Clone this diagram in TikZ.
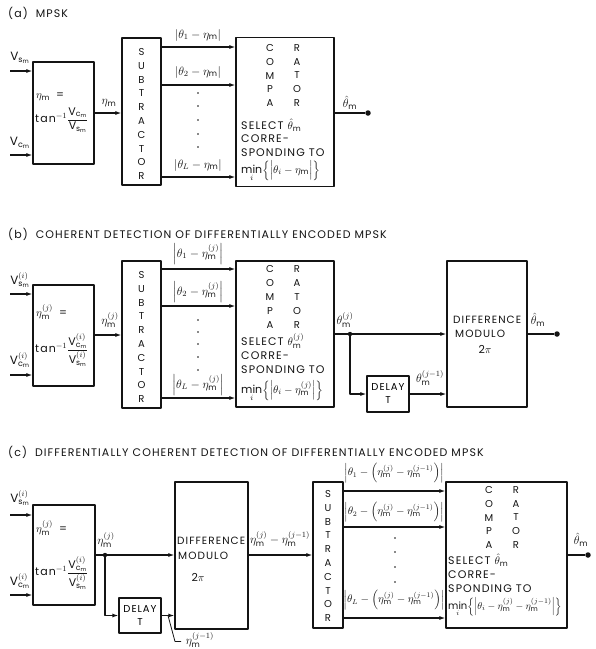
\documentclass[tikz,border=0pt]{standalone}
\usepackage{amsmath}
\usepackage{fontspec}
\setmainfont{Poppins}[LetterSpace=10]
\setsansfont{Poppins}[LetterSpace=10]
\usetikzlibrary{arrows.meta,positioning,calc}
\definecolor{dgedge}{RGB}{20,20,20}
\definecolor{dgpaper}{RGB}{255,255,255}
\newcommand{\dgm}{\mathsf{m}}
\newcommand{\dgV}[1]{\mathsf{V}_{\mathsf{#1}_{\dgm}}}
\tikzset{
  blk/.style={draw=dgedge, line width=1.2pt, inner sep=0pt},
  dly/.style={blk, align=center, font=\fontsize{10}{13}\selectfont},
  arr/.style={-{Latex[length=6pt,width=4pt]}, draw=dgedge, line width=1.2pt},
  wire/.style={draw=dgedge, line width=1.2pt},
  lead/.style={draw=dgedge, line width=0.8pt},
  term/.style={circle, fill=dgedge, inner sep=0pt, minimum size=5.5pt},
  jn/.style={circle, fill=dgedge, inner sep=0pt, minimum size=4.4pt},
  lbl/.style={inner sep=0pt, text=dgedge},
  mlbl/.style={lbl, font=\fontsize{12}{14}\selectfont},
  slbl/.style={lbl, font=\fontsize{10.5}{12}\selectfont},
  txt/.style={lbl, anchor=west},
  dtxt/.style={txt, font=\fontsize{10.5}{12}\selectfont},
  stk/.style={lbl, align=center, font=\fontsize{10}{13.8}\selectfont},
  ttl/.style={lbl, anchor=west, font=\fontsize{11}{13}\selectfont},
  every picture/.append style={font=\fontsize{11}{13}\selectfont, line join=round}
}

\begin{document}
\begin{tikzpicture}[x=1pt, y=-1pt]
  \useasboundingbox[fill=dgpaper] (0,0) rectangle (596,649);
  % (a)
  \node[ttl] (ttla) at (8,13) {(a)\hspace{8pt}MPSK};
  \node[blk, minimum width=61pt, minimum height=102pt] (fna) at (63.5,113) {};
  \node[blk, minimum width=39pt, minimum height=147pt] (sba) at (141.5,111.5) {};
  \node[blk, minimum width=98pt, minimum height=149pt] (cpa) at (285,112) {};
  \coordinate (ina1) at (10,71);
  \coordinate (ina2) at (10,155);
  \draw[arr] (ina1) -- (fna.west |- ina1);
  \draw[arr] (ina2) -- (fna.west |- ina2);
  \node[mlbl] at (20,58) {$\dgV{s}$};
  \node[mlbl] at (20,143) {$\dgV{c}$};
  \node[txt] at (36,97) {$\eta_\dgm$\hspace{6pt}=};
  \node[txt] at (35,120) {tan$^{-1}\dfrac{\dgV{c}}{\dgV{s}}$};
  \draw[arr] (fna) -- (sba.west |- fna);
  \node[mlbl] at (109,103) {$\eta_\dgm$};
  \node[stk] at (141.5,114) {S\\U\\B\\T\\R\\A\\C\\T\\O\\R};
  \draw[arr] (sba.east |- 0,47) -- (cpa.west |- 0,47);
  \draw[arr] (sba.east |- 0,85) -- (cpa.west |- 0,85);
  \draw[arr] (sba.east |- 0,177) -- (cpa.west |- 0,177);
  \node[mlbl] at (198,35) {$\left|\theta_1 - \eta_\dgm\right|$};
  \node[mlbl] at (198,72) {$\left|\theta_2 - \eta_\dgm\right|$};
  \node[mlbl] at (198,165) {$\left|\theta_L - \eta_\dgm\right|$};
  \foreach \k in {93,106,120,134,147}
    \fill[dgedge] (198,\k) circle (0.9);
  \node[stk] at (270,75.5) {C\\O\\M\\P\\A};
  \node[stk] at (297,75.5) {R\\A\\T\\O\\R};
  \node[txt] at (241,125) {SELECT $\hat{\theta}_\dgm$};
  \node[txt] at (241,139) {CORRE-};
  \node[txt] at (241,153) {SPONDING TO};
  \node[txt] at (241,171) {$\underset{i}{\mathsf{min}}\Bigl\{\Bigl|\theta_i - \eta_\dgm\Bigr|\Bigr\}$};
  \node[term] (outa) at (368,113) {};
  \draw[wire] (cpa.east |- outa) -- (outa);
  \node[mlbl] at (350,103) {$\hat{\theta}_\dgm$};
  % (b)
  \node[ttl] (ttlb) at (8,234) {(b)\hspace{8pt}COHERENT DETECTION OF DIFFERENTIALLY ENCODED MPSK};
  \node[blk, minimum width=61pt, minimum height=101pt] (fnb) at (63.5,335.5) {};
  \node[blk, minimum width=39pt, minimum height=147pt] (sbb) at (141.5,334.5) {};
  \node[blk, minimum width=98pt, minimum height=146pt] (cpb) at (285,334) {};
  \node[blk, minimum width=80pt, minimum height=146pt] (dfb) at (487,334) {};
  \node[dly, minimum width=42pt, minimum height=36pt] (db) at (388,394) {DELAY\\T};
  \coordinate (inb1) at (10,294);
  \coordinate (inb2) at (10,375);
  \draw[arr] (inb1) -- (fnb.west |- inb1);
  \draw[arr] (inb2) -- (fnb.west |- inb2);
  \node[mlbl] at (20,280) {$\dgV{s}^{(i)}$};
  \node[mlbl] at (20,360) {$\dgV{c}^{(i)}$};
  \node[txt] at (36,312) {$\eta_\dgm^{(j)}$\hspace{6pt}=};
  \node[txt] at (35,350) {tan$^{-1}\dfrac{\dgV{c}^{(i)}}{\dgV{s}^{(i)}}$};
  \draw[arr] (fnb.east |- 0,335) -- (sbb.west |- 0,335);
  \node[mlbl] at (110,320) {$\eta_\dgm^{(j)}$};
  \node[stk] at (141.5,337) {S\\U\\B\\T\\R\\A\\C\\T\\O\\R};
  \draw[arr] (sbb.east |- 0,269) -- (cpb.west |- 0,269);
  \draw[arr] (sbb.east |- 0,306) -- (cpb.west |- 0,306);
  \draw[arr] (sbb.east |- 0,398) -- (cpb.west |- 0,398);
  \node[mlbl] at (198,254) {$\left|\theta_1 - \eta_\dgm^{(j)}\right|$};
  \node[mlbl] at (198,292) {$\left|\theta_2 - \eta_\dgm^{(j)}\right|$};
  \node[mlbl] at (198,385) {$\left|\theta_L - \eta_\dgm^{(j)}\right|$};
  \foreach \k in {320,332,344,357,370}
    \fill[dgedge] (198,\k) circle (0.9);
  \node[stk] at (270,297) {C\\O\\M\\P\\A};
  \node[stk] at (297,297) {R\\A\\T\\O\\R};
  \node[txt] at (241,341) {SELECT $\theta_\dgm^{(j)}$};
  \node[txt] at (241,356) {CORRE-};
  \node[txt] at (241,370) {SPONDING TO};
  \node[txt] at (241,391) {$\underset{i}{\mathsf{min}}\Bigl\{\Bigl|\theta_i - \eta_\dgm^{(j)}\Bigr|\Bigr\}$};
  \node[jn] (jb) at (350,334) {};
  \draw[wire] (cpb.east |- jb) -- (jb);
  \draw[arr] (jb) -- (dfb.west |- jb);
  \draw[arr] (jb) |- (db);
  \draw[arr] (db) -- (dfb.west |- db);
  \node[dtxt] at (453,320) {DIFFERENCE};
  \node[dtxt] at (455,334) {MODULO};
  \node[lbl] at (485,349) {2$\pi$};
  \node[term] (outb) at (557,334) {};
  \draw[wire] (dfb.east |- outb) -- (outb);
  \node[mlbl] at (345,320) {$\theta_\dgm^{(j)}$};
  \node[mlbl] at (430,378) {$\theta_\dgm^{(j-1)}$};
  \node[mlbl] at (538,320) {$\hat{\theta}_\dgm$};
  % (c)
  \node[ttl] (ttlc) at (8,452) {(c)\hspace{8pt}DIFFERENTIALLY COHERENT DETECTION OF DIFFERENTIALLY ENCODED MPSK};
  \node[blk, minimum width=62pt, minimum height=100pt] (fnc) at (64,555) {};
  \node[blk, minimum width=73pt, minimum height=147pt] (dfc) at (211.5,555.5) {};
  \node[dly, minimum width=42pt, minimum height=35pt] (dc) at (140,615.5) {DELAY\\T};
  \node[blk, minimum width=30pt, minimum height=146pt] (sbc) at (328,555) {};
  \node[blk, minimum width=121pt, minimum height=146pt] (cpc) at (506.5,555) {};
  \coordinate (inc1) at (10,515);
  \coordinate (inc2) at (10,595);
  \draw[arr] (inc1) -- (fnc.west |- inc1);
  \draw[arr] (inc2) -- (fnc.west |- inc2);
  \node[mlbl] at (20,498) {$\dgV{s}^{(i)}$};
  \node[mlbl] at (20,581) {$\dgV{c}^{(i)}$};
  \node[txt] at (36,528) {$\eta_\dgm^{(j)}$\hspace{6pt}=};
  \node[txt] at (35,573) {tan$^{-1}\dfrac{\dgV{c}^{(i)}}{\dgV{s}^{(i)}}$};
  \node[jn] (jc) at (105,555) {};
  \draw[wire] (fnc.east |- jc) -- (jc);
  \draw[arr] (jc) -- (dfc.west |- jc);
  \draw[arr] (jc) |- (dc.west);
  \draw[arr] (dc.east) -- (dfc.west |- dc.east);
  \node[mlbl] at (106,540) {$\eta_\dgm^{(j)}$};
  \coordinate (ldc) at ($(dc.east)!0.5!(dfc.west |- dc.east)$);
  \draw[lead] (ldc) -- ++(7,26) -- ++(6,0);
  \node[mlbl] at (200,640) {$\eta_\dgm^{(j-1)}$};
  \node[dtxt] at (177,541) {DIFFERENCE};
  \node[dtxt] at (178,556) {MODULO};
  \node[lbl] at (198,577) {2$\pi$};
  \draw[arr] (dfc.east |- jc) -- (sbc.west |- jc);
  \node[mlbl] at (280,539) {$\eta_\dgm^{(j)} - \eta_\dgm^{(j-1)}$};
  \node[stk] at (328,556) {S\\U\\B\\T\\R\\A\\C\\T\\O\\R};
  \draw[arr] (sbc.east |- 0,491) -- (cpc.west |- 0,491);
  \draw[arr] (sbc.east |- 0,527) -- (cpc.west |- 0,527);
  \draw[arr] (sbc.east |- 0,618) -- (cpc.west |- 0,618);
  \node[slbl] at (394,473) {$\left|\theta_1 - \left(\eta_\dgm^{(j)} - \eta_\dgm^{(j-1)}\right)\right|$};
  \node[slbl] at (394,512) {$\left|\theta_2 - \left(\eta_\dgm^{(j)} - \eta_\dgm^{(j-1)}\right)\right|$};
  \node[slbl] at (394,600) {$\left|\theta_L - \left(\eta_\dgm^{(j)} - \eta_\dgm^{(j-1)}\right)\right|$};
  \foreach \k in {538,552,567,582}
    \fill[dgedge] (395,\k) circle (0.9);
  \node[stk] at (489,517.5) {C\\O\\M\\P\\A};
  \node[stk] at (516,517.5) {R\\A\\T\\O\\R};
  \node[txt] at (448,560) {SELECT $\hat{\theta}_\dgm$};
  \node[txt] at (448,575) {CORRE-};
  \node[txt] at (448,589) {SPONDING TO};
  \node[txt, font=\fontsize{10}{12}\selectfont] at (448,607) {$\underset{i}{\mathsf{min}}\Bigl\{\Bigl|\theta_i - \eta_\dgm^{(j)} - \eta_\dgm^{(j-1)}\Bigr|\Bigr\}$};
  \node[term] (outc) at (588,555) {};
  \draw[wire] (cpc.east |- outc) -- (outc);
  \node[mlbl] at (581,540) {$\hat{\theta}_\dgm$};
\end{tikzpicture}
\end{document}
